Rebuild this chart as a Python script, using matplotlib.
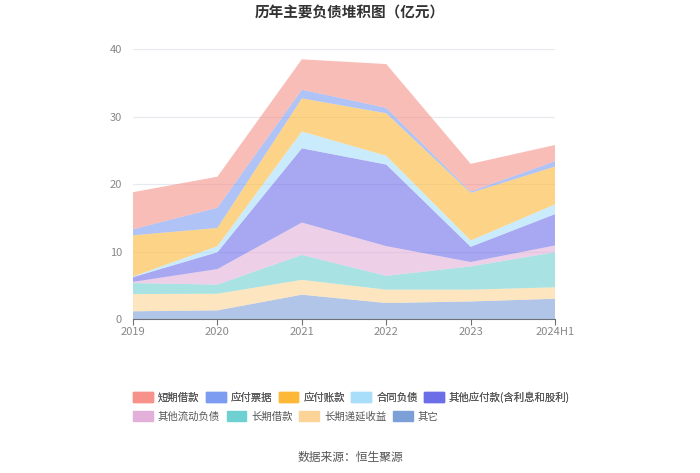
import matplotlib
matplotlib.use('Agg')
import matplotlib.pyplot as plt
import matplotlib.patches as mpatches
import numpy as np

plt.rcParams['font.family'] = ['Noto Sans CJK SC', 'DejaVu Sans']

years = ['2019', '2020', '2021', '2022', '2023', '2024H1']

# 各项负债(亿元)，自下而上
qita = [1.14, 1.28, 3.6, 2.37, 2.6, 3.0]                 # 其它
chang_diyan = [2.56, 2.47, 2.2, 1.98, 1.75, 1.7]         # 长期递延收益
chang_jiekuan = [1.63, 1.35, 3.7, 2.05, 3.45, 5.2]       # 长期借款
qita_liudong = [0.17, 2.3, 4.8, 4.4, 0.65, 1.0]          # 其他流动负债
qita_yingfu = [0.7, 2.5, 11.0, 12.1, 2.25, 4.65]         # 其他应付款(含利息和股利)
hetong = [0.1, 0.9, 2.5, 1.3, 0.95, 1.45]                # 合同负债
yingfu_zhang = [6.1, 2.7, 4.9, 6.3, 7.05, 5.6]           # 应付账款
yingfu_piao = [0.9, 3.0, 1.3, 0.8, 0.2, 0.8]             # 应付票据
duanqi = [5.5, 4.6, 4.5, 6.5, 4.1, 2.4]                  # 短期借款

series = [
    ('其它', qita, '#7c9fd8'),
    ('长期递延收益', chang_diyan, '#fdd497'),
    ('长期借款', chang_jiekuan, '#6ed0d0'),
    ('其他流动负债', qita_liudong, '#e3b0d9'),
    ('其他应付款(含利息和股利)', qita_yingfu, '#6c6ee8'),
    ('合同负债', hetong, '#a8defa'),
    ('应付账款', yingfu_zhang, '#fdb838'),
    ('应付票据', yingfu_piao, '#7b9cf0'),
    ('短期借款', duanqi, '#f6928a'),
]

fig = plt.figure(figsize=(7, 4.73), dpi=100)
ax = fig.add_axes([0.19, 0.3256, 0.603, 0.5704])

x = np.arange(len(years))
ax.stackplot(x, *[s[1] for s in series], colors=[s[2] for s in series],
             alpha=0.6, linewidth=0)

ax.set_xlim(0, len(years) - 1)
ax.set_ylim(0, 40)
ax.set_yticks([0, 10, 20, 30, 40])
ax.set_xticks(x)
ax.set_xticklabels(years)
ax.yaxis.grid(True, color='#e6e9f0', linewidth=0.8)
ax.set_axisbelow(True)
for sp in ['top', 'right', 'left']:
    ax.spines[sp].set_visible(False)
ax.spines['bottom'].set_color('#6e7079')
ax.tick_params(axis='y', length=0, labelsize=8, labelcolor='#888888', pad=8)
ax.tick_params(axis='x', length=4, color='#6e7079', labelsize=8, labelcolor='#888888', pad=2)

fig.text(0.5, 0.99, '历年主要负债堆积图（亿元）', ha='center', va='top',
         fontsize=10.5, fontweight='bold', color='#333333')

order = ['短期借款', '应付票据', '应付账款', '合同负债', '其他应付款(含利息和股利)',
         '其他流动负债', '长期借款', '长期递延收益', '其它']
colors = {s[0]: s[2] for s in series}
handles = [mpatches.Patch(color=colors[n], label=n) for n in order]

kw = dict(frameon=False, fontsize=7.5, labelcolor='#555555', handlelength=1.9,
          handleheight=1.1, handletextpad=0.5, columnspacing=0.6, loc='center left',
          borderaxespad=0, borderpad=0)
leg1 = fig.legend(handles=handles[:5], ncol=5, bbox_to_anchor=(0.19, 0.16), **kw)
fig.add_artist(leg1)
fig.legend(handles=handles[5:], ncol=4, bbox_to_anchor=(0.19, 0.12), **kw)

fig.text(0.5, 0.033, '数据来源：恒生聚源', ha='center', va='center',
         fontsize=8.5, color='#555555')

fig.savefig('out.png', dpi=100)
